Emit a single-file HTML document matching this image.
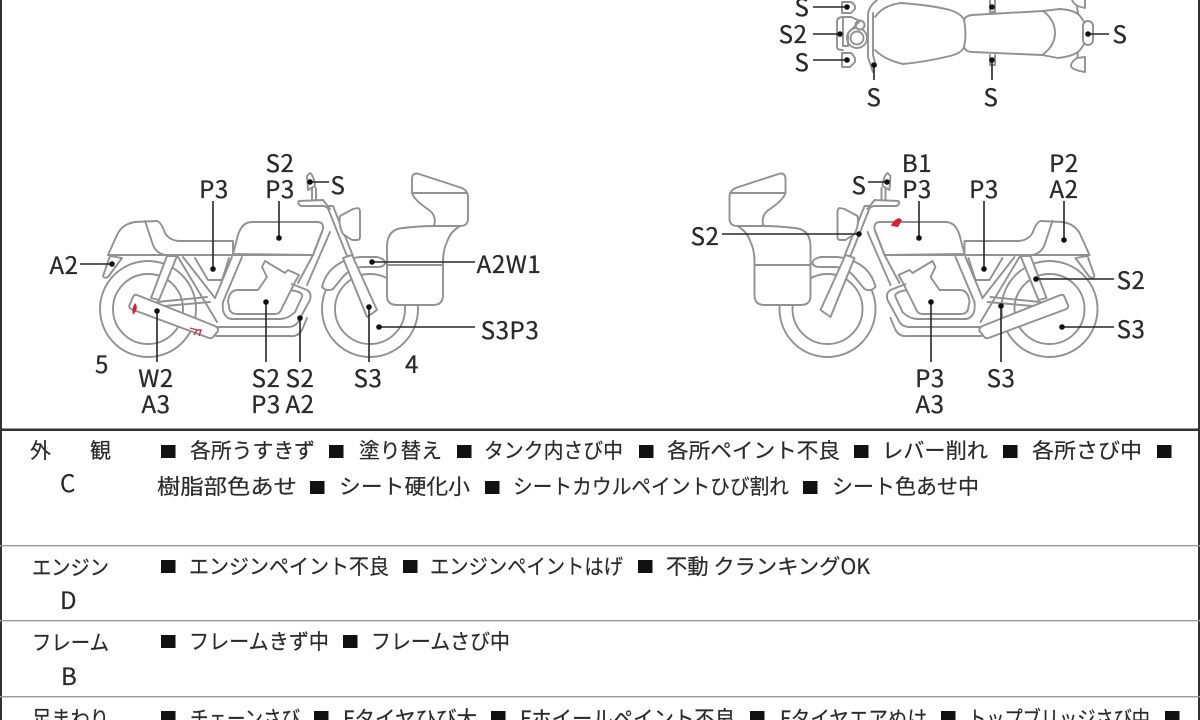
<!DOCTYPE html>
<html lang="ja"><head><meta charset="utf-8"><title>Motorcycle condition sheet</title>
<style>
html,body{margin:0;padding:0;background:#fff;width:1200px;height:720px;overflow:hidden}
svg{display:block}
text{font-family:"Noto Sans CJK JP","Liberation Sans",sans-serif;fill:#222}
.l text{font-size:24px;text-anchor:middle;letter-spacing:.6px;fill:#2a2a2a;stroke:#2a2a2a;stroke-width:.3}
.t text{font-size:21px;fill:#2a2a2a;stroke:#2a2a2a;stroke-width:.2}
.t text.a{font-size:24px}
.b{stroke:#919191;stroke-width:1.9;fill:none;stroke-linejoin:round;stroke-linecap:round}
.w{fill:#fff}
.c{stroke:#262626;stroke-width:1.6;fill:none}
.d{fill:#111}
</style></head><body>
<svg width="1200" height="720" viewBox="0 0 1200 720" xmlns="http://www.w3.org/2000/svg">
<defs>
<g id="bike">
 <circle class="b" cx="148" cy="309" r="48"/>
 <circle class="b" cx="148" cy="309" r="35"/>
 <circle class="b" cx="370" cy="309" r="48"/>
 <circle class="b" cx="370" cy="309" r="35"/>
 <!-- rear fender -->
 <path class="b w" d="M110 256L103 276Q104 279 108 277L122 258Z"/>
 <!-- shock -->
 <path class="b w" d="M167 256L151 298L159 300L177 256Z"/>
 <path class="b" d="M157 302L207 297M165 306L210 302"/>
 <!-- frame -->
 <path class="b" d="M183 257L215 298L232 257"/>
 <path class="b" d="M178 257L217 322"/>
 <path class="b" d="M195 258L208 280H222L229 258"/>
 <path class="b" d="M242 257L223 302Q222 311 225 315Q228 319 232 319H280Q288 319 295 312L302 297Q304 292 290 290"/>
 <!-- seat + tail -->
 <path class="b w" d="M108 255L117 235Q122 224 135 222L157 221Q161 222 165 233Q170 241 180 241L233 241L233 255Z"/>
 <path class="b" d="M145 221L153 245Q156 253 165 255"/>
 <!-- tank -->
 <path class="b w" d="M233 254L238 235Q242 222 252 222H317Q324 222 323 229L313 255Z"/>
 <path class="b" d="M108 255H313"/>
 <!-- struts -->
 <path class="b" d="M330 232L307 285M322 232L313 255L298 283"/>
 <!-- engine -->
 <path class="b w" d="M238 290H258L267 277L262 267L265 261L275 267L285 273L288 270L299 275L295 282L282 308Q280 314 275 314H237Q229 314 229 306L228 302Q229 290 238 290Z"/>
 <!-- exhaust -->
 <path class="b" d="M217 327H288Q295 327 298 322L310 300Q312 293 307 290L292 284"/>
 <path class="b" d="M216 336H290Q298 337 302 330L307 318"/>
 <!-- muffler -->
 <path class="b w" d="M137 295L215 326Q219 328 218 331L214 336Q212 339 209 338L131 309Q128 307 130 304L133 297Q134 294 137 295Z"/>
 <!-- fender -->
 <path class="b w" d="M322 287Q326 270 342 262Q350 258 360 257L377 257Q385 259 385 263Q384 267 378 267H362Q350 268 342 278L333 289Q327 292 322 287Z"/>
 <!-- fork -->
 <path class="b w" d="M327 206L347 256H353L333 206Z"/>
 <path class="b w" d="M343 258L352 255L377 310L367 317Z"/>
 <!-- headlight -->
 <path class="b w" d="M340 216L353 209L358 208Q360 209 360 212V237Q360 240 357 240H352L343 234Q338 224 340 216Z"/>
 <!-- handlebar -->
 <path class="b w" d="M299 201L323 200L330 209L324 206H301Q297 204 299 201Z"/>
 <path class="b" d="M312 200V188M316 200V188"/>
 <path class="b w" d="M307 176L310 173Q314 176 315 186L308 190Z"/>
 <!-- top box -->
 <path class="b w" d="M412 178Q413 172 419 174L462 188Q468 191 468 197V220Q467 226 460 226L434 226Q437 216 429 210Q414 200 412 193Z"/>
 <path class="b" d="M413 193H467"/>
 <!-- saddlebag -->
 <path class="b w" d="M387 245Q388 229 403 228Q420 226 434 226L460 226Q450 232 447 242Q443 250 443 262V295Q443 305 433 305H397Q387 305 387 296Z"/>
 <path class="b" d="M387 265H443"/>
</g>
</defs>

<!-- frame lines -->
<rect x="0" y="0" width="2" height="720" fill="#333"/>
<rect x="1198" y="0" width="2" height="720" fill="#333"/>
<rect x="0" y="428.5" width="1200" height="2.5" fill="#333"/>
<rect x="0" y="545" width="1200" height="1.4" fill="#9a9a9a"/>
<rect x="0" y="620" width="1200" height="1.4" fill="#9a9a9a"/>
<rect x="0" y="696" width="1200" height="1.4" fill="#9a9a9a"/>

<!-- top view -->
<g>
 <path class="b" d="M875 17Q882 6 900 3Q930 5 950 10Q962 14 964 20Q967 34 964 47Q962 53 950 56Q925 62 903 64Q885 60 875 50"/>
 <path class="b" d="M964 20Q965 16 972 15L1043 11L1060 9Q1075 10 1080 16L1085 23V43L1080 50Q1075 56 1058 58L1042 55L972 52Q966 52 964 47"/>
 <path class="b" d="M1043 11Q1055 20 1055 33Q1055 46 1042 55"/>
 <rect class="b w" x="1083" y="21" width="10" height="24" rx="5"/>
 <path class="b" d="M1072 0Q1075 6 1081 7L1085 8V0M1078 13L1077 7M1078 53L1077 58Q1071 62 1071 66Q1072 70 1085 72V57L1077 58"/>
 <path class="b" d="M990 0V12H995V0M990 55V65H995V55"/>
 <path class="b" d="M877 0Q869 6 868 14V57L873 72M873 13V55L876 66"/>
 <circle class="b w" cx="857" cy="38" r="10"/>
 <circle class="b w" cx="857" cy="38" r="6.5"/>
 <circle class="b w" cx="860" cy="25" r="4.5"/>
 <path class="b" d="M843 17Q837 17 837 22V47Q837 50 843 50M843 17H851L860 21L848 33V46H843Z"/>
 <path class="b" d="M842 2H851Q856 5 855 9L851 13H842ZM842 53H851Q856 57 855 62L850 67H842Z"/>
</g>
<g class="c">
 <path d="M813 7H847M813 34H840M813 60H847M874 65V80M992 60V80M1088 34H1109"/>
</g>
<g class="d"><circle cx="847" cy="7" r="2.8"/><circle cx="840" cy="34" r="2.8"/><circle cx="847" cy="60" r="2.8"/><circle cx="874" cy="65" r="2.8"/><circle cx="992" cy="7" r="2.8"/><circle cx="992" cy="60" r="2.8"/><circle cx="1088" cy="34" r="2.8"/></g>

<!-- side views -->
<use href="#bike"/>
<use href="#bike" transform="translate(1197.5 0) scale(-1 1)"/>

<!-- red marks -->
<path d="M135 303Q138 306 136 311L133 315Q131 309 135 303Z" fill="#d8203a"/>
<path d="M190 328L197 330L194 335M197 330L201 330L199 336" stroke="#c8304a" stroke-width="1.4" fill="none"/>
<path d="M891 226Q893 220 899 218L902 220L898 227Z" fill="#d8203a"/>

<!-- callouts -->
<path class="c" d="M80 264H112M213 201V269M279 201V238M157 311V362M266 302V362M300 318V362M310 182H329M372 262H475M379 327H475M369 307V362"/>
<path class="c" d="M868 182H887M722 234H859M919 201V238M984 201V269M1064 201V240M1036 279H1114M1062 327H1114M1001 306V362M931 302V362"/>
<g class="d">
 <circle cx="112" cy="264" r="2.8"/><circle cx="213" cy="269" r="2.8"/><circle cx="279" cy="238" r="2.8"/><circle cx="157" cy="311" r="2.8"/><circle cx="266" cy="302" r="2.8"/><circle cx="300" cy="318" r="2.8"/><circle cx="310" cy="182" r="2.8"/><circle cx="372" cy="262" r="2.8"/><circle cx="379" cy="327" r="2.8"/><circle cx="369" cy="307" r="2.8"/>
 <circle cx="887" cy="182" r="2.8"/><circle cx="859" cy="234" r="2.8"/><circle cx="919" cy="238" r="2.8"/><circle cx="984" cy="269" r="2.8"/><circle cx="1064" cy="240" r="2.8"/><circle cx="1036" cy="279" r="2.8"/><circle cx="1062" cy="327" r="2.8"/><circle cx="1001" cy="306" r="2.8"/><circle cx="931" cy="302" r="2.8"/>
</g>

<!-- diagram labels -->
<g class="l">
 <text x="802" y="16">S</text><text x="793" y="43">S2</text><text x="802" y="71">S</text><text x="874" y="106">S</text><text x="991" y="106">S</text><text x="1120" y="43">S</text>
 <text x="64" y="274">A2</text><text x="214" y="198">P3</text><text x="280" y="172">S2</text><text x="280" y="198">P3</text><text x="338" y="194">S</text>
 <text x="509" y="273">A2W1</text><text x="510" y="339">S3P3</text><text x="368" y="387">S3</text>
 <text x="266" y="387">S2</text><text x="266" y="413">P3</text><text x="300" y="387">S2</text><text x="300" y="413">A2</text>
 <text x="156" y="387">W2</text><text x="156" y="413">A3</text><text x="102" y="373">5</text><text x="412" y="373">4</text>
 <text x="705" y="245">S2</text><text x="859" y="194">S</text><text x="917" y="172">B1</text><text x="917" y="198">P3</text><text x="984" y="198">P3</text>
 <text x="1064" y="172">P2</text><text x="1064" y="198">A2</text><text x="1131" y="289">S2</text><text x="1131" y="338">S3</text>
 <text x="1001" y="387">S3</text><text x="930" y="387">P3</text><text x="930" y="413">A3</text>
</g>

<!-- table labels -->
<g class="t">
 <text x="30" y="458">外</text><text x="90" y="458">観</text><text class="a" x="60" y="492">C</text>
 <text x="32" y="575" textLength="77" lengthAdjust="spacingAndGlyphs">エンジン</text><text class="a" x="60" y="609">D</text>
 <text x="32" y="650" textLength="77" lengthAdjust="spacingAndGlyphs">フレーム</text><text class="a" x="61" y="685">B</text>
 <text x="32" y="726" textLength="77" lengthAdjust="spacingAndGlyphs">足まわり</text>
</g>

<!-- bullets -->
<g fill="#111">
 <rect x="161" y="445" width="14.5" height="13"/><rect x="329" y="445" width="14.5" height="13"/><rect x="457" y="445" width="14.5" height="13"/><rect x="639" y="445" width="14.5" height="13"/><rect x="854" y="445" width="14.5" height="13"/><rect x="1003" y="445" width="14.5" height="13"/><rect x="1157" y="445" width="14.5" height="13"/>
 <rect x="310" y="481" width="14.5" height="13"/><rect x="485" y="481" width="14.5" height="13"/><rect x="803" y="481" width="14.5" height="13"/>
 <rect x="161" y="560" width="14.5" height="13"/><rect x="403" y="560" width="14.5" height="13"/><rect x="638" y="560" width="14.5" height="13"/>
 <rect x="161" y="635" width="14.5" height="13"/><rect x="343" y="635" width="14.5" height="13"/>
 <rect x="161" y="711" width="14.5" height="13"/><rect x="314" y="711" width="14.5" height="13"/><rect x="491" y="711" width="14.5" height="13"/><rect x="750" y="711" width="14.5" height="13"/><rect x="941" y="711" width="14.5" height="13"/><rect x="1165" y="711" width="14.5" height="13"/>
</g>

<!-- table text -->
<g class="t">
 <text x="190" y="458" textLength="125" lengthAdjust="spacingAndGlyphs">各所うすきず</text>
 <text x="359" y="458" textLength="83" lengthAdjust="spacingAndGlyphs">塗り替え</text>
 <text x="484" y="458" textLength="139" lengthAdjust="spacingAndGlyphs">タンク内さび中</text>
 <text x="667" y="458" textLength="173" lengthAdjust="spacingAndGlyphs">各所ペイント不良</text>
 <text x="882" y="458" textLength="106" lengthAdjust="spacingAndGlyphs">レバー削れ</text>
 <text x="1032" y="458" textLength="110" lengthAdjust="spacingAndGlyphs">各所さび中</text>
 <text x="157" y="494" textLength="140" lengthAdjust="spacingAndGlyphs">樹脂部色あせ</text>
 <text x="339" y="494" textLength="131" lengthAdjust="spacingAndGlyphs">シート硬化小</text>
 <text x="513" y="494" textLength="276" lengthAdjust="spacingAndGlyphs">シートカウルペイントひび割れ</text>
 <text x="832" y="494" textLength="147" lengthAdjust="spacingAndGlyphs">シート色あせ中</text>
 <text x="189" y="574" textLength="200" lengthAdjust="spacingAndGlyphs">エンジンペイント不良</text>
 <text x="430" y="574" textLength="193" lengthAdjust="spacingAndGlyphs">エンジンペイントはげ</text>
 <text x="666" y="574" textLength="204" lengthAdjust="spacingAndGlyphs">不動 クランキングOK</text>
 <text x="189" y="649" textLength="140" lengthAdjust="spacingAndGlyphs">フレームきず中</text>
 <text x="371" y="649" textLength="139" lengthAdjust="spacingAndGlyphs">フレームさび中</text>
 <text x="190" y="726" textLength="110" lengthAdjust="spacingAndGlyphs">チェーンさび</text>
 <text x="343" y="726" textLength="134" lengthAdjust="spacingAndGlyphs">Fタイヤひび大</text>
 <text x="520" y="726" textLength="215" lengthAdjust="spacingAndGlyphs">Fホイールペイント不良</text>
 <text x="780" y="726" textLength="147" lengthAdjust="spacingAndGlyphs">Fタイヤエアぬけ</text>
 <text x="968" y="726" textLength="182" lengthAdjust="spacingAndGlyphs">トップブリッジさび中</text>
</g>
</svg>
</body></html>
